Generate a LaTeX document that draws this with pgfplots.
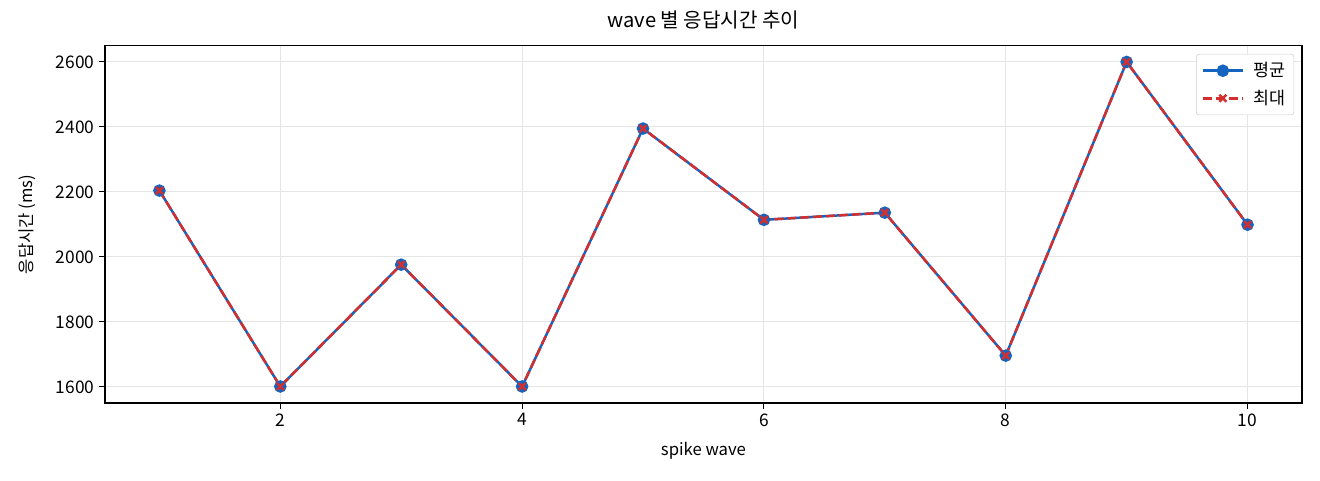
\documentclass[border=0pt]{standalone}
\usepackage{fontspec}
\setmainfont{Noto Sans CJK KR}
\usepackage{pgfplots}
\pgfplotsset{compat=1.18}

\definecolor{avgblue}{HTML}{1565C0}
\definecolor{maxred}{HTML}{D32F2F}

\begin{document}
\begin{tikzpicture}
\path[use as bounding box] (0,0) rectangle (950.4pt,345.6pt);
\begin{axis}[%
width=861.8pt,
height=257.3pt,
at={(75.6pt,55.4pt)},
anchor=south west,
scale only axis,
xmin=0.55,
xmax=10.45,
ymin=1550,
ymax=2650,
xtick={2,4,6,8,10},
ytick={1600,1800,2000,2200,2400,2600},
tick align=outside,
xtick pos=bottom,
ytick pos=left,
major tick length=4pt,
every tick/.style={black,line width=0.8pt},
axis line style={line width=0.8pt},
xmajorgrids,
ymajorgrids,
grid style={black!10,line width=0.8pt},
/pgf/number format/assume math mode=true,
/pgf/number format/1000 sep={},
ticklabel style={font=\fontsize{12.5}{14}\selectfont},
xlabel={spike wave},
ylabel={응답시간 (ms)},
label style={font=\fontsize{12}{14}\selectfont},
xlabel style={at={(axis description cs:0.5,-0.134)},anchor=center},
ylabel style={at={(axis description cs:-0.065,0.5)},anchor=center},
title={wave 별 응답시간 추이},
title style={font=\fontsize{14.5}{16}\selectfont,at={(axis description cs:0.5,1.048)},anchor=center},
legend style={font=\fontsize{12.5}{14}\selectfont,draw=black!20,rounded corners=2pt,
  at={(0.9935,0.977)},anchor=north east,row sep=4pt,inner sep=4pt,
  /tikz/every odd column/.append style={column sep=5pt}},
legend cell align=left,
legend image code/.code={%
  \draw[mark repeat=2,mark phase=2] plot coordinates {(0cm,0cm) (0.5cm,0cm) (1.0cm,0cm)};},
]
\addplot[color=avgblue,solid,line width=1.8pt,mark=*,mark size=3.6pt,mark options={solid}] table[row sep=crcr] {%
1	2204\\
2	1601\\
3	1976\\
4	1601\\
5	2395\\
6	2114\\
7	2136\\
8	1696\\
9	2600\\
10	2099\\
};
\addlegendentry{평균}
\addplot[color=maxred,dash pattern=on 6.5pt off 2.8pt,line width=1.8pt,mark=x,mark size=3.6pt,mark options={solid}] table[row sep=crcr] {%
1	2204\\
2	1601\\
3	1976\\
4	1601\\
5	2395\\
6	2114\\
7	2136\\
8	1696\\
9	2600\\
10	2099\\
};
\addlegendentry{최대}
\end{axis}
\end{tikzpicture}
\end{document}
